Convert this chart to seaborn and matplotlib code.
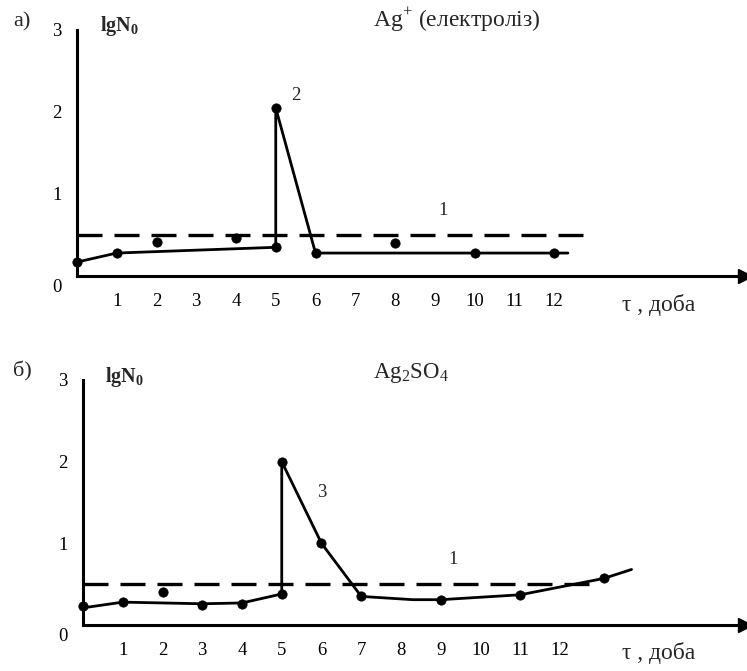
import seaborn as sns
import matplotlib.pyplot as plt
import matplotlib.transforms as mtransforms

# values (t in days, lgN0)
top_line_t = [0, 1, 5, 5, 6, 12.35]
top_line_lg = [0.17, 0.28, 0.35, 2.05, 0.28, 0.28]
top_pts_t = [0, 1, 2, 4, 5, 5, 6, 8, 10, 12]
top_pts_lg = [0.17, 0.28, 0.41, 0.46, 0.35, 2.05, 0.28, 0.40, 0.28, 0.28]

bot_line_t = [0, 1, 3, 4, 5, 5, 6, 7, 8.3, 9, 11, 13.1, 13.8]
bot_line_lg = [0.21, 0.28, 0.26, 0.27, 0.38, 2.0, 1.0, 0.35, 0.31, 0.31, 0.37, 0.57, 0.68]
bot_pts_t = [0, 1, 2, 3, 4, 5, 5, 6, 7, 9, 11, 13.1]
bot_pts_lg = [0.23, 0.28, 0.40, 0.25, 0.26, 0.38, 2.0, 1.0, 0.35, 0.31, 0.37, 0.57]

norm_t = [0, 13]
norm_lg = [0.5, 0.5]

x_ticks = list(range(1, 13))
y_ticks = [0, 1, 2, 3]

sns.set_style("white")
plt.rcParams["font.family"] = ["Liberation Serif", "DejaVu Serif"]
plt.rcParams["mathtext.fontset"] = "custom"
plt.rcParams["mathtext.rm"] = "Liberation Serif"
plt.rcParams["mathtext.bf"] = "Liberation Serif:bold"

W, H = 747, 671
fig = plt.figure(figsize=(W / 100, H / 100), dpi=100)
px = 39.75  # pixels per day


def make_axes(x0, y0, y3):
    ax = fig.add_axes([x0 / W, (H - y0) / H, (745 - x0) / W, (y0 - y3) / H])
    ax.set_xlim(0, (745 - x0) / px)
    ax.set_ylim(0, 3)
    return ax


def style_axes(ax):
    for side in ["top", "right"]:
        ax.spines[side].set_visible(False)
    for side in ["left", "bottom"]:
        ax.spines[side].set_linewidth(2.2)
        ax.spines[side].set_color("black")
    ax.set_xticks(x_ticks)
    ax.set_xticklabels([str(t) for t in x_ticks])
    ax.set_yticks(y_ticks)
    ax.set_yticklabels([str(v) for v in y_ticks])
    ax.tick_params(axis="x", direction="inout", length=6, width=2, pad=9,
                   labelsize=13.5, colors="black")
    ax.tick_params(axis="y", direction="in", length=7, width=2.2, pad=11,
                   labelsize=13.5, colors="black")
    # the "0" sits a little lower than the axis
    lbl = ax.get_yticklabels()[0]
    lbl.set_transform(lbl.get_transform() +
                      mtransforms.ScaledTranslation(0, -7 / 72, fig.dpi_scale_trans))
    ax.plot(1, 0, marker=">", color="black", markersize=10,
            transform=ax.get_yaxis_transform(), clip_on=False)
    ax.set_xlabel("")
    ax.set_ylabel("")


def draw(ax, lt, llg, pt, plg):
    sns.lineplot(x=norm_t, y=norm_lg, color="black", lw=2.4,
                 linestyle=(0, (7.5, 3.6)), ax=ax)
    sns.lineplot(x=lt, y=llg, sort=False, estimator=None, color="black",
                 lw=2, ax=ax)
    sns.scatterplot(x=pt, y=plg, color="black", s=45, edgecolor="black",
                    zorder=4, clip_on=False, ax=ax)


ax1 = make_axes(77, 276, 30)
draw(ax1, top_line_t, top_line_lg, top_pts_t, top_pts_lg)
style_axes(ax1)
ax1.text(9.2, 0.8, "1", fontsize=13.5, ha="center", va="center")
ax1.text(5.5, 2.2, "2", fontsize=13.5, ha="center", va="center")

ax2 = make_axes(83, 625, 380)
draw(ax2, bot_line_t, bot_line_lg, bot_pts_t, bot_pts_lg)
style_axes(ax2)
ax2.text(9.3, 0.8, "1", fontsize=13.5, ha="center", va="center")
ax2.text(6.0, 1.62, "3", fontsize=13.5, ha="center", va="center")


def ftext(x, y, s, **kw):
    fig.text(x / W, 1 - y / H, s, **kw)


ftext(13, 22, "а)", fontsize=16, va="center")
ftext(100, 26, r"lgN$_\mathbf{0}$", fontsize=14.5, fontweight="bold", va="center")
ftext(373, 20, r"Ag$^{+}$ (електроліз)", fontsize=17, va="center")
ftext(622, 305, "τ , доба", fontsize=17, va="center")

ftext(13, 371, "б)", fontsize=16, va="center")
ftext(105, 377, r"lgN$_\mathbf{0}$", fontsize=14.5, fontweight="bold", va="center")
ftext(373, 373, r"Ag$_2$SO$_4$", fontsize=16.5, va="center")
ftext(622, 653, "τ , доба", fontsize=17, va="center")

plt.savefig("out.png", dpi=100)
